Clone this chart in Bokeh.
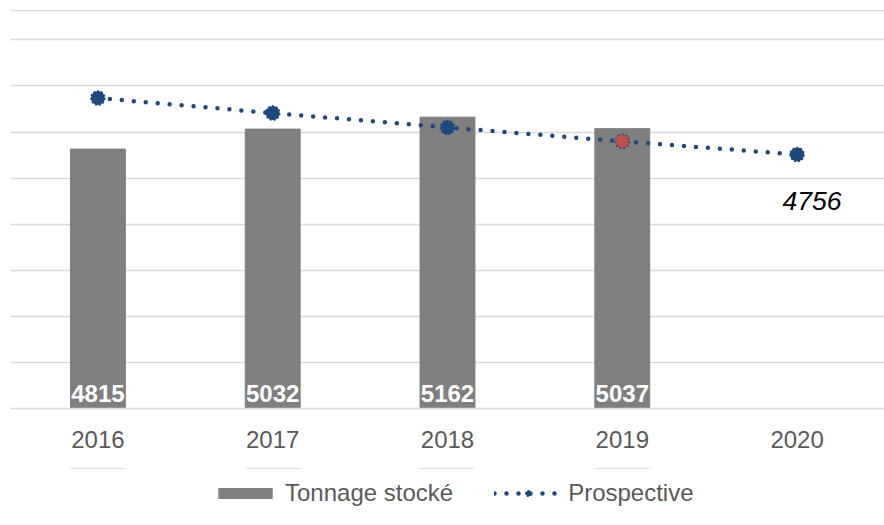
from bokeh.plotting import figure
from bokeh.layouts import column
from bokeh.models import FactorRange, Range1d, FixedTicker, Grid, Span, Legend, LegendItem
from bokeh.core.properties import value
from bokeh.embed import file_html
from bokeh.resources import INLINE

# ---- data ----
years = ["2016", "2017", "2018", "2019", "2020"]
bar_years = ["2016", "2017", "2018", "2019"]
tonnage = [4815, 5032, 5162, 5037]
prospective = [5369, 5206, 5050, 4899, 4756]
grid_ticks = [2000, 2500, 3000, 3500, 4000, 4500, 5000, 5500, 6000]
series_names = ["Tonnage stocké", "Prospective"]
y_min = 2000
y_max = 6330
highlight_index = 3

# ---- style ----
FONT = "Liberation Sans"
GRAY_BAR = "#7F7F7F"
GRID = "#D9D9D9"
TEXT = "#595959"
BLUE = "#1F497D"
RED = "#C0504D"

p = figure(
    x_range=FactorRange(*years, range_padding=0),
    y_range=Range1d(y_min, y_max),
    frame_width=874, frame_height=399,
    output_backend="svg", toolbar_location=None,
    y_axis_location=None,
    min_border_left=10, min_border_right=0, min_border_top=9, min_border_bottom=60,
)
p.outline_line_color = None
p.xgrid.visible = False
p.background_fill_color = "white"

p.add_layout(Grid(dimension=1, ticker=FixedTicker(ticks=grid_ticks),
                  grid_line_color=GRID, grid_line_width=1.5))
p.add_layout(Span(location=y_max - 10, dimension="width",
                  line_color=GRID, line_width=1.5))

ax = p.xaxis[0]
ax.axis_line_color = GRID
ax.axis_line_width = 1.5
ax.major_tick_line_color = None
ax.minor_tick_line_color = None
ax.major_tick_out = 0
ax.major_tick_in = 0
ax.major_label_text_font = FONT
ax.major_label_text_font_size = "24px"
ax.major_label_text_color = TEXT
ax.major_label_standoff = 22

bars = p.vbar(x=bar_years, top=tonnage, bottom=y_min, width=0.314,
              fill_color=GRAY_BAR, line_color=GRAY_BAR)

p.text(x=bar_years, y=[y_min] * len(bar_years), text=[str(v) for v in tonnage],
       text_font=value(FONT), text_font_size="24px", text_font_style="bold",
       text_color="white", text_align="center", text_baseline="alphabetic",
       y_offset=-15)

r_line = p.line(x=years, y=prospective, line_color=BLUE, line_width=4.5,
                line_dash="0 12", line_cap="round")
fills = [RED if i == highlight_index else BLUE for i in range(len(years))]
r_mark = p.scatter(x=years, y=prospective, size=14, fill_color=fills,
                   line_color=BLUE, line_width=1.5, line_dash="2 2")

p.text(x=[years[-1]], y=[prospective[-1]], text=[str(prospective[-1])],
       text_font=value(FONT), text_font_size="26.5px", text_font_style="italic",
       text_color="black", text_align="center", text_baseline="alphabetic",
       x_offset=15, y_offset=46)

# ---- legend strip: a small figure whose view (0..1) shows none of the data,
#      so only the legend keys are visible ----
lf = figure(
    x_range=FactorRange(*years, range_padding=0), y_range=Range1d(0, 1),
    frame_width=874, frame_height=57,
    output_backend="svg", toolbar_location=None,
    x_axis_location=None, y_axis_location=None,
    min_border_left=10, min_border_right=0, min_border_top=0, min_border_bottom=0,
)
lf.outline_line_color = None
lf.xgrid.visible = False
lf.ygrid.visible = False
lb = lf.vbar(x=bar_years, top=tonnage, bottom=y_min, width=0.314,
             fill_color=GRAY_BAR, line_color=None)
ll = lf.line(x=years, y=prospective, line_color=BLUE, line_width=4.5,
             line_dash="0 12", line_cap="round")
lm = lf.scatter(x=years, y=prospective, size=14, fill_color=BLUE, line_color=BLUE,
                line_width=1.5, line_dash="2 2")

legend = Legend(
    items=[LegendItem(label=series_names[0], renderers=[lb]),
           LegendItem(label=series_names[1], renderers=[ll, lm])],
    orientation="horizontal", location=(201, 18),
    glyph_width=68, glyph_height=14,
    label_text_font=FONT, label_text_font_size="24px", label_text_color=TEXT,
    border_line_color=None, background_fill_alpha=0,
    spacing=41, label_standoff=6, margin=0, padding=0,
)
lf.add_layout(legend, "center")

layout = column(p, lf, spacing=0)
open("out.html", "w").write(file_html(layout, INLINE))
